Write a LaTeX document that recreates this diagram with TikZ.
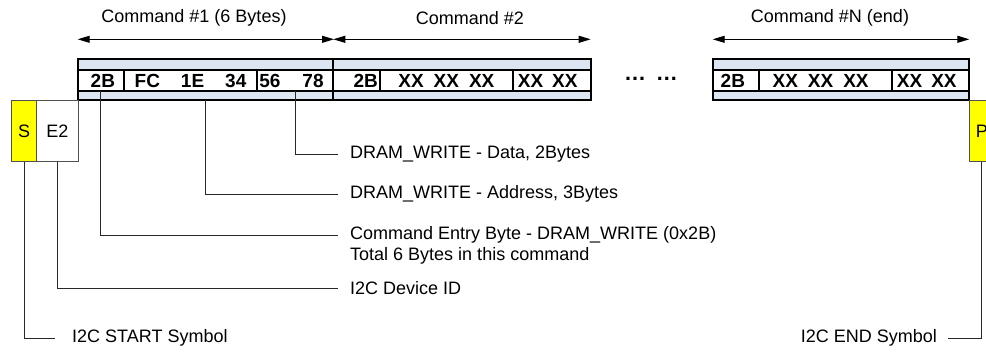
\documentclass[tikz,border=0pt]{standalone}
\usepackage{fontspec}
\setmainfont{Liberation Sans}
\usepackage{xcolor}
\definecolor{bandfill}{RGB}{220, 230, 242}
\definecolor{symfill}{RGB}{255, 255, 0}
\definecolor{symline}{RGB}{80, 80, 80}
\definecolor{leadline}{RGB}{40, 40, 40}
\usetikzlibrary{arrows.meta,positioning,calc}

\begin{document}
\begin{tikzpicture}[
  x=1pt, y=-1pt,
  frame/.style={draw=black, fill=bandfill, line width=2.2pt, minimum height=40.7pt, inner sep=0pt, outer sep=0pt},
  cell/.style={draw=black, fill=white, line width=2.2pt, minimum height=21pt, inner sep=0pt, outer sep=0pt, font=\fontsize{19}{22}\selectfont\bfseries},
  symbox/.style={draw=symline, line width=0.9pt, minimum height=61.7pt, inner sep=0pt, outer sep=0pt, font=\fontsize{18}{21}\selectfont},
  title/.style={inner sep=0pt, font=\fontsize{18}{21}\selectfont},
  note/.style={anchor=west, inner xsep=12pt, inner ysep=0pt, align=left, font=\fontsize{18}{21}\selectfont},
  span/.style={{Triangle[length=12pt, width=7pt]}-{Triangle[length=12pt, width=7pt]}, line width=1pt},
  leader/.style={draw=leadline, line width=0.9pt}
]
\useasboundingbox (0,0) rectangle (986,353);

% Command frames
\node[frame, minimum width=256.3pt] (cmdA) at (205.85, 79.65) {};
\node[frame, minimum width=257.4pt] (cmdB) at (462, 79.65) {};
\node[frame, minimum width=256.6pt] (cmdN) at (841, 79.65) {};

% Command #1 bytes
\node[cell, minimum width=46.3pt] (a2b) at (100.85, 80.5) {\hspace*{4pt}2B};
\node[cell, minimum width=133pt] (aadr) at (190.5, 80.5) {FC\hspace{21pt}1E\hspace{21pt}34};
\node[cell, minimum width=77pt] (adat) at (295.5, 80.5) {56\hspace{22pt}78\hspace*{8pt}};

% Command #2 bytes
\node[cell, minimum width=46.7pt] (b2b) at (356.65, 80.5) {\hspace*{18pt}2B};
\node[cell, minimum width=132.7pt] (badr) at (446.35, 80.5) {XX\hspace{10pt}XX\hspace{10pt}XX};
\node[cell, minimum width=78pt] (bdat) at (551.7, 80.5) {XX\hspace{9pt}XX\hspace*{8pt}};

% Command #N bytes
\node[cell, minimum width=46.3pt] (n2b) at (735.85, 80.5) {2B\hspace*{6pt}};
\node[cell, minimum width=133.3pt] (nadr) at (825.65, 80.5) {XX\hspace{10pt}XX\hspace{10pt}XX\hspace*{10pt}};
\node[cell, minimum width=77pt] (ndat) at (930.8, 80.5) {XX\hspace{9pt}XX\hspace*{8pt}};

\node[inner sep=0pt, font=\fontsize{22}{24}\selectfont\bfseries] (gap) at (651, 79) {…\hspace{10pt}…};

% Titles and spans
\node[title] (ttlA) at (194, 18) {Command \#1 (6 Bytes)};
\node[title] (ttlB) at (470, 18) {Command \#2};
\node[title] (ttlN) at (830, 18) {Command \#N (end)};

\draw[span] ([yshift=20pt]cmdA.north west) -- ([yshift=20pt]cmdA.north east);
\draw[span] ([yshift=20pt]cmdB.north west) -- ([yshift=20pt]cmdB.north east);
\draw[span] ([yshift=20pt]cmdN.north west) -- ([yshift=20pt]cmdN.north east);

% I2C framing
\node[symbox, fill=symfill, minimum width=25pt] (symS) at (24.2, 130.85) {S};
\node[symbox, fill=white, minimum width=41.6pt] (devid) at (57.5, 130.85) {E2};
\node[symbox, fill=symfill, minimum width=25pt] (symP) at (981.8, 130.85) {P};

% Notes
\node[note] (datTxt) at (338, 154) {DRAM\_WRITE - Data, 2Bytes};
\node[note] (adrTxt) at (338, 194) {DRAM\_WRITE - Address, 3Bytes};
\node[note] (entTxt) at (338, 245.5) {Command Entry Byte - DRAM\_WRITE (0x2B)\\Total 6 Bytes in this command};
\node[note] (devTxt) at (338, 288) {I2C Device ID};
\node[note, inner xsep=17pt] (startTxt) at (55, 338) {I2C START Symbol};
\node[note, anchor=east, inner xsep=11pt] (endTxt) at (948, 338) {I2C END Symbol};

% Leaders
\draw[leader] (adat.south) |- (datTxt.west);
\draw[leader] (cmdA.south) |- (adrTxt.west);
\draw[leader] (a2b.south) |- ([yshift=10.5pt]entTxt.west);
\draw[leader] (devid.south) |- (devTxt.west);
\draw[leader] (symS.south) |- (startTxt.west);
\draw[leader] (symP.south) |- (endTxt.east);

\end{tikzpicture}
\end{document}
